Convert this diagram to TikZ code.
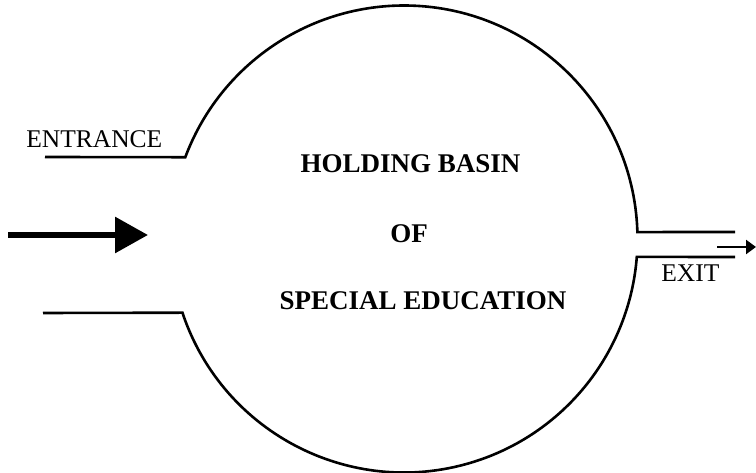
\documentclass[tikz,border=0pt]{standalone}
\usepackage{fontspec}
\setmainfont{Liberation Serif}
\usetikzlibrary{arrows.meta}

\begin{document}
\begin{tikzpicture}[x=1pt,y=1pt,line width=2.6pt]
  \tikzstyle{every node}=[inner sep=0pt]
  \tikzstyle{tag}=[font=\fontsize{25.5}{25.5}\selectfont,anchor=base west]
  \tikzstyle{title}=[font=\bfseries\fontsize{27}{27}\selectfont,anchor=base]
  \tikzstyle{inflow}=[line width=6pt,-{Triangle[length=33pt,width=35pt]}]
  \tikzstyle{outflow}=[line width=2.4pt,-{Triangle[length=10pt,width=14pt]}]
  \useasboundingbox (0,0) rectangle (756,473);
  \coordinate (basin) at (404,234);
  \coordinate (intop) at (45,316);
  \coordinate (inbot) at (43,160);
  \coordinate (outtop) at (735,241);
  \coordinate (outbot) at (735,216);
  % upper wall, exit to entrance
  \draw (outtop) -- ([shift={(1.7:233.5)}]basin)
        arc[start angle=1.7,end angle=159.5,radius=233.5] -- (intop);
  % lower wall, entrance to exit
  \draw (inbot) -- ([shift={(198.4:233.5)}]basin)
        arc[start angle=198.4,end angle=355.6,radius=233.5] -- (outbot);
  \node[tag] (entrance) at (25,325) {ENTRANCE};
  \node[tag] (exit) at (660,191) {EXIT};
  \node[title] (holding) at (410.5,300) {HOLDING BASIN};
  \node[title] (of) at (409,230) {OF};
  \node[title] (special) at (423,163) {SPECIAL EDUCATION};
  \coordinate (flowtail) at (8,238);
  \coordinate (flowtip) at (148,238);
  \draw[inflow] (flowtail) -- (flowtip);
  \coordinate (leavetail) at (717,226);
  \coordinate (leavetip) at (756,226);
  \draw[outflow] (leavetail) -- (leavetip);
\end{tikzpicture}
\end{document}
